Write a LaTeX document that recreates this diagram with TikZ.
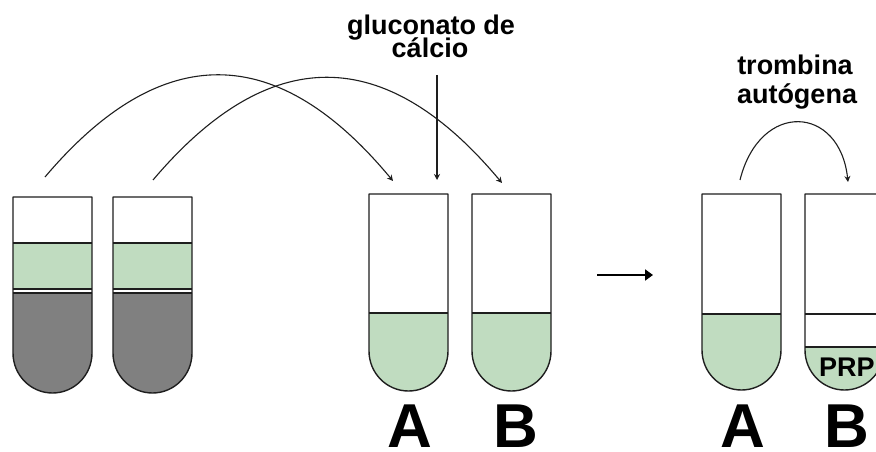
\documentclass[tikz,border=0pt]{standalone}
\usepackage{fontspec}
\setmainfont{Liberation Sans}
\usetikzlibrary{arrows.meta}
\definecolor{plasmagreen}{RGB}{192,220,192}
\definecolor{cellgray}{RGB}{128,128,128}
\definecolor{edgecol}{RGB}{30,30,30}
\tikzset{
  tubeline/.style={draw=edgecol, line width=1.4pt, line join=round},
  sepline/.style={draw=edgecol, line width=1.2pt},
  curvearrow/.style={draw=edgecol, line width=1.1pt, -{Stealth[length=6pt,width=6pt]}},
  labeltext/.style={font=\fontsize{27}{28}\selectfont\bfseries, inner sep=0pt, anchor=base},
  bigletter/.style={font=\fontsize{62}{62}\selectfont\bfseries, inner sep=0pt, anchor=base},
}
% tube outline: x, top, end of straight part
\newcommand\tubeoutline[3]{%
  \draw[tubeline] (#1,#2) -- (#1,#3) arc[start angle=180,end angle=360,x radius=39.5pt,y radius=40pt] -- (#1+79,#2) -- cycle;}
% fill from level down: x, level, end of straight part, colour
\newcommand\tubefill[4]{%
  \fill[fill=#4] (#1,#2) -- (#1,#3) arc[start angle=180,end angle=360,x radius=39.5pt,y radius=40pt] -- (#1+79,#2) -- cycle;}
\begin{document}
\begin{tikzpicture}[x=1pt,y=-1pt]
\useasboundingbox (0,0) rectangle (876,452);
\clip (0,0) rectangle (876,452);
\fill[white] (0,0) rectangle (876,452);

% left tubes (centrifuged blood)
\foreach \tx in {13,113}{
  \fill[plasmagreen] (\tx,243) rectangle (\tx+79,289);
  \tubefill{\tx}{293}{353}{cellgray}
  \draw[sepline] (\tx,243) -- (\tx+79,243);
  \draw[sepline] (\tx,289) -- (\tx+79,289);
  \draw[sepline] (\tx,293) -- (\tx+79,293);
  \tubeoutline{\tx}{197}{353}
}

% middle tubes
\foreach \tx in {369,472}{
  \tubefill{\tx}{313}{351}{plasmagreen}
  \draw[sepline] (\tx,313) -- (\tx+79,313);
  \tubeoutline{\tx}{194}{351}
}

% right tubes
\tubefill{702}{314}{350}{plasmagreen}
\draw[sepline] (702,314) -- (781,314);
\tubeoutline{702}{194}{350}
\tubefill{805}{347}{350}{plasmagreen}
\draw[sepline] (805,314) -- (884,314);
\draw[sepline] (805,347) -- (884,347);
\tubeoutline{805}{194}{350}
\node[font=\fontsize{27}{27}\selectfont\bfseries, inner sep=0pt, anchor=base west] (prp) at (819,376) {PRP};

% letters
\node[bigletter] (ma) at (409.5,447) {A};
\node[bigletter] (mb) at (516,447) {B};
\node[bigletter] (ra) at (743,447) {A};
\node[bigletter] (rb) at (847,447) {B};

% labels
\node[labeltext] (glu1) at (431,35) {gluconato de};
\node[labeltext] (glu2) at (430,58) {cálcio};
\node[labeltext] (tro1) at (795,75) {trombina};
\node[labeltext] (tro2) at (797,103) {autógena};

% connector end points
\coordinate (s1) at (45,177);
\coordinate (e1) at (393,181);
\coordinate (s2) at (153,180);
\coordinate (e2) at (502,183);
\coordinate (gs) at (437,75);
\coordinate (ge) at (437,180);
\coordinate (s3) at (740,180);
\coordinate (e3) at (848,182);
\coordinate (hs) at (597,275);
\coordinate (he) at (653,275);

\draw[curvearrow] (s1) .. controls (161,40) and (277,41) .. (e1);
\draw[curvearrow] (s2) .. controls (269,43) and (385,43) .. (e2);
\draw[curvearrow] (gs) -- (ge);
\draw[curvearrow] (s3) .. controls (760,100) and (840,105) .. (e3);
\draw[draw=black, line width=2.2pt, -{Triangle[length=8pt,width=11pt]}] (hs) -- (he);
\end{tikzpicture}
\end{document}
